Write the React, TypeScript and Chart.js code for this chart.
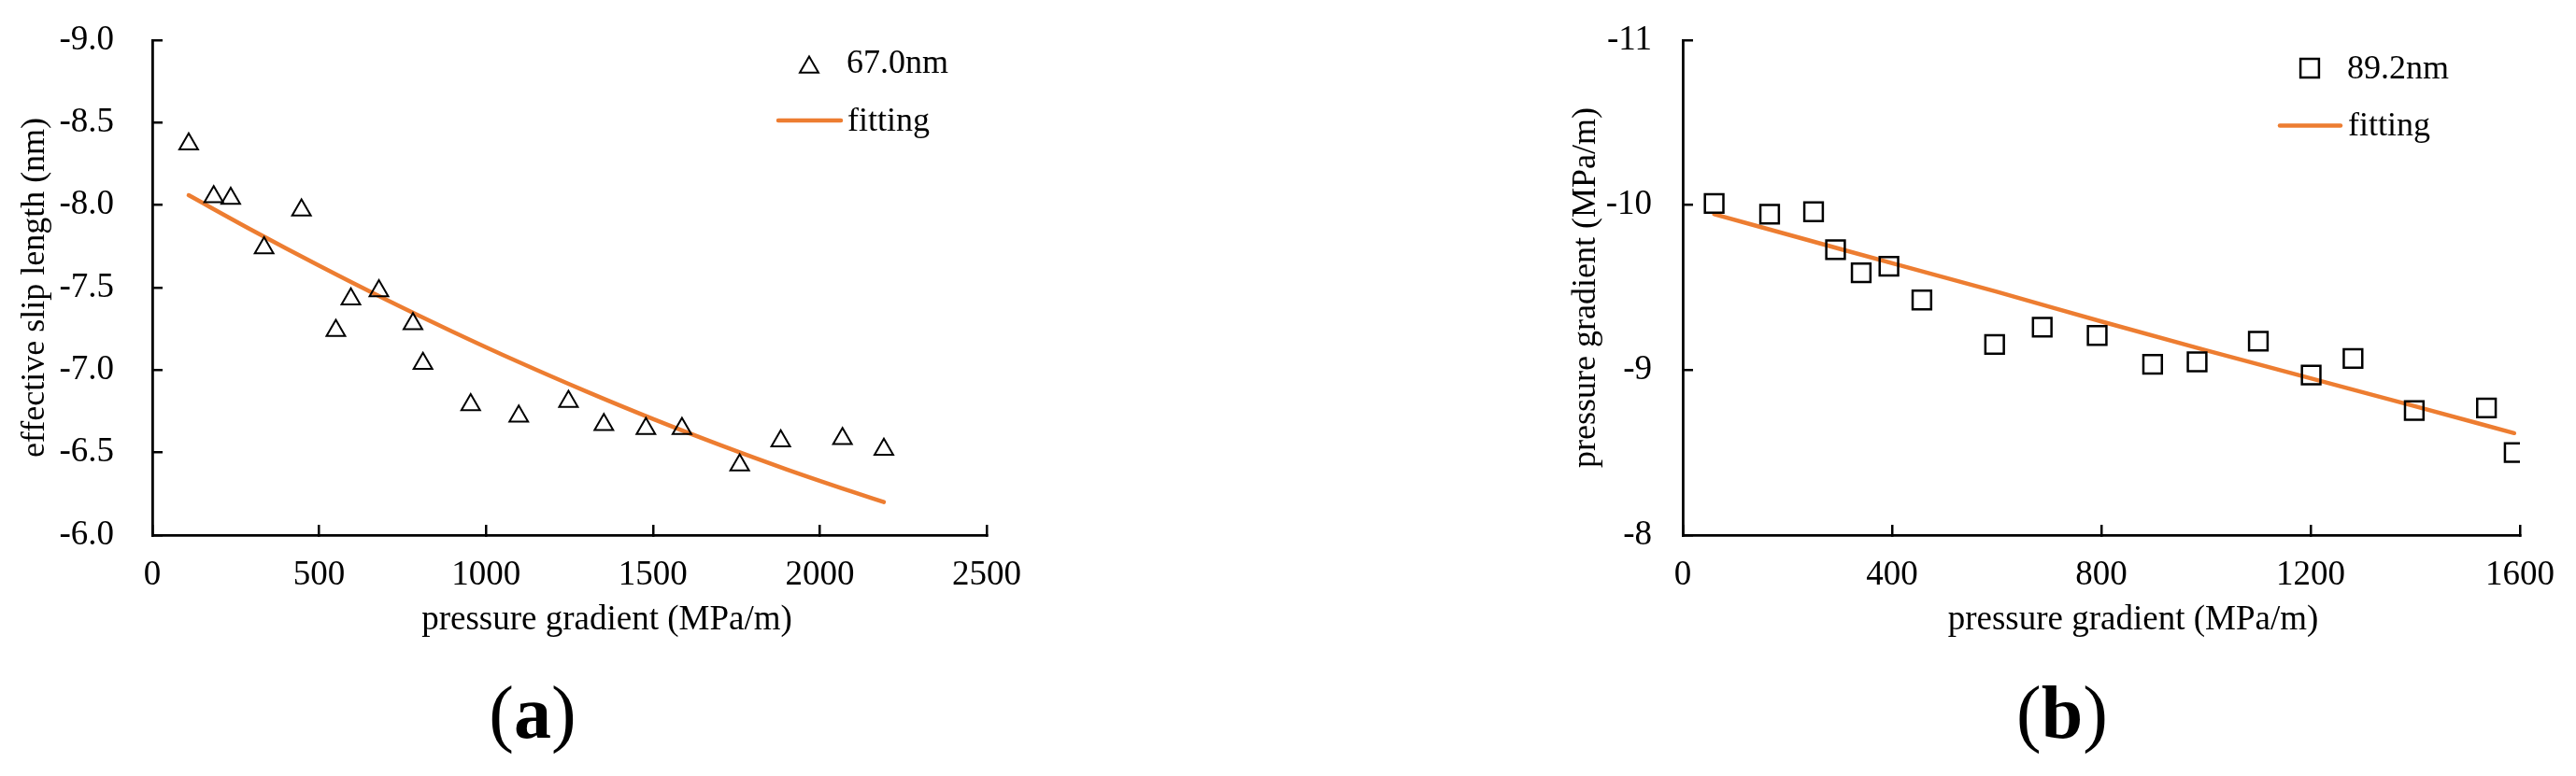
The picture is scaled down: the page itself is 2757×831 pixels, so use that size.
import React, { useEffect, useRef } from 'react';
import { Chart, registerables } from 'chart.js';
import { drawPoint } from 'chart.js/helpers';

Chart.register(...registerables);

const SERIF = "'Liberation Serif', 'Times New Roman', Times, serif";
const ORANGE = '#ED7D31';

// ---------- Panel (a) ----------
const aPressure = [109, 184, 235, 335, 447, 550, 595, 679, 781, 811, 954, 1098, 1247, 1353, 1479, 1587, 1760, 1883, 2068, 2192];
const aSlip = [-8.37, -8.05, -8.04, -7.74, -7.97, -7.24, -7.43, -7.48, -7.28, -7.04, -6.79, -6.72, -6.81, -6.67, -6.645, -6.645, -6.425, -6.57, -6.585, -6.52];
const aFitPressure = [109, 300, 500, 700, 900, 1100, 1300, 1500, 1700, 1900, 2100, 2192];
const aFitSlip = [-8.06, -7.847, -7.633, -7.428, -7.233, -7.047, -6.871, -6.704, -6.547, -6.399, -6.261, -6.2];
const aXTicks = [0, 500, 1000, 1500, 2000, 2500];
const aYTicks = [-9.0, -8.5, -8.0, -7.5, -7.0, -6.5, -6.0];
const aSeriesLabel = '67.0nm';
const aYTitle = 'effective slip length (nm)';

// ---------- Panel (b) ----------
const bPressure = [60, 166, 250, 292, 341, 394, 457, 596, 687, 792, 898, 983, 1100, 1201, 1281, 1398, 1536, 1589];
const bGradient = [-10.01, -9.945, -9.96, -9.73, -9.59, -9.63, -9.425, -9.155, -9.26, -9.21, -9.035, -9.05, -9.175, -8.97, -9.07, -8.755, -8.77, -8.5];
const bFitPressure = [60, 300, 600, 800, 1000, 1200, 1400, 1589];
const bFitGradient = [-9.945, -9.735, -9.475, -9.295, -9.12, -8.95, -8.78, -8.618];
const bXTicks = [0, 400, 800, 1200, 1600];
const bYTicks = [-11, -10, -9, -8];
const bSeriesLabel = '89.2nm';
const bYTitle = 'pressure gradient (MPa/m)';

const xTitle = 'pressure gradient (MPa/m)';
const fitLabel = 'fitting';

const insetLegend = {
  id: 'insetLegend',
  afterLayout(chart: any, _args: any, opts: any) {
    // shift the x-axis title sideways the way the reference places it
    const s = chart.scales.x;
    if (s && !s.__titleShifted) {
      const orig = s.drawTitle.bind(s);
      s.drawTitle = function () {
        const ctx = this.ctx;
        ctx.save();
        ctx.translate((opts && opts.xTitleShift) || 0, 0);
        orig();
        ctx.restore();
      };
      s.__titleShifted = true;
    }
  },
  afterDatasetsDraw(chart: any, _args: any, opts: any) {
    if (!opts || !opts.marker) return;
    const ctx = chart.ctx;
    const pts = chart.data.datasets[0];
    const fit = chart.data.datasets[1];
    ctx.save();
    ctx.strokeStyle = pts.borderColor;
    ctx.fillStyle = 'rgba(0,0,0,0)';
    ctx.lineWidth = pts.borderWidth;
    drawPoint(
      ctx,
      { pointStyle: pts.pointStyle, radius: pts.pointRadius, borderWidth: pts.borderWidth, rotation: 0 } as any,
      opts.marker[0],
      opts.marker[1]
    );
    ctx.beginPath();
    ctx.strokeStyle = fit.borderColor;
    ctx.lineWidth = fit.borderWidth;
    ctx.lineCap = 'round';
    ctx.moveTo(opts.line[0], opts.line[2]);
    ctx.lineTo(opts.line[1], opts.line[2]);
    ctx.stroke();
    ctx.fillStyle = '#000';
    ctx.font = `36px ${SERIF}`;
    ctx.textAlign = 'left';
    ctx.textBaseline = 'alphabetic';
    ctx.fillText(pts.label, opts.text1[0], opts.text1[1]);
    ctx.fillText(fit.label, opts.text2[0], opts.text2[1]);
    ctx.restore();
  },
};

type PanelSpec = {
  xs: number[];
  ys: number[];
  fitXs: number[];
  fitYs: number[];
  xTicks: number[];
  yTicks: number[];
  seriesLabel: string;
  yTitle: string;
  yDecimals: number;
  pointStyle: string;
  pointRadius: number;
  markerStroke: number;
  padding: { left: number; right: number; top: number; bottom: number };
  yWidth: number;
  yTickPad: number;
  yTitlePad: number;
  legend: any;
};

function zeroPad(s: any) {
  s.paddingTop = 0;
  s.paddingBottom = 0;
  s.paddingLeft = 0;
  s.paddingRight = 0;
}

function buildConfig(p: PanelSpec): any {
  const tickFont = { family: SERIF, size: 37 };
  const xTitleFont = { family: SERIF, size: 37 };
  const yTitleFont = { family: SERIF, size: 36 };
  return {
    type: 'scatter',
    data: {
      datasets: [
        {
          label: p.seriesLabel,
          data: p.xs.map((x, i) => ({ x, y: p.ys[i] })),
          pointStyle: p.pointStyle,
          pointRadius: p.pointRadius,
          borderColor: '#000',
          backgroundColor: 'rgba(0,0,0,0)',
          borderWidth: p.markerStroke,
          showLine: false,
        },
        {
          label: fitLabel,
          data: p.fitXs.map((x, i) => ({ x, y: p.fitYs[i] })),
          showLine: true,
          pointRadius: 0,
          borderColor: ORANGE,
          backgroundColor: ORANGE,
          borderWidth: 4.5,
          cubicInterpolationMode: 'monotone',
          borderCapStyle: 'round',
          fill: false,
        },
      ],
    },
    options: {
      responsive: false,
      animation: false,
      devicePixelRatio: 1,
      layout: { padding: p.padding },
      plugins: {
        legend: { display: false },
        tooltip: { enabled: false },
        insetLegend: p.legend,
      },
      scales: {
        x: {
          type: 'linear',
          position: 'bottom',
          min: p.xTicks[0],
          max: p.xTicks[p.xTicks.length - 1],
          afterBuildTicks: (s: any) => {
            s.ticks = p.xTicks.map((v) => ({ value: v }));
          },
          afterFit: (s: any) => {
            s.height = 120;
            zeroPad(s);
          },
          grid: { drawOnChartArea: false, drawTicks: true, tickLength: -11, color: '#000', lineWidth: 2.5 },
          border: { display: true, color: '#000', width: 2.8 },
          ticks: {
            autoSkip: false,
            maxRotation: 0,
            padding: 32,
            color: '#000',
            font: tickFont,
            callback: (v: any) => String(v),
          },
          title: { display: true, text: xTitle, color: '#000', font: xTitleFont, padding: { top: 0, bottom: 7 } },
        },
        y: {
          type: 'linear',
          position: 'left',
          reverse: true,
          min: p.yTicks[0],
          max: p.yTicks[p.yTicks.length - 1],
          afterBuildTicks: (s: any) => {
            s.ticks = p.yTicks.map((v) => ({ value: v }));
          },
          afterFit: (s: any) => {
            s.width = p.yWidth;
            zeroPad(s);
          },
          grid: { drawOnChartArea: false, drawTicks: true, tickLength: -11, color: '#000', lineWidth: 2.5 },
          border: { display: true, color: '#000', width: 2.8 },
          ticks: {
            autoSkip: false,
            padding: p.yTickPad,
            color: '#000',
            font: tickFont,
            callback: (v: any) => Number(v).toFixed(p.yDecimals),
          },
          title: { display: true, text: p.yTitle, color: '#000', font: yTitleFont, padding: { top: p.yTitlePad, bottom: 0 } },
        },
      },
    },
    plugins: [insetLegend],
  };
}

function Panel({ spec, left, width }: { spec: PanelSpec; left: number; width: number }) {
  const ref = useRef<HTMLCanvasElement | null>(null);
  useEffect(() => {
    if (!ref.current) return;
    const chart = new Chart(ref.current, buildConfig(spec));
    return () => chart.destroy();
  }, [spec]);
  return (
    <canvas
      ref={ref}
      width={width}
      height={831}
      style={{ position: 'absolute', left, top: 0, width, height: 831 }}
    />
  );
}

const panelA: PanelSpec = {
  xs: aPressure,
  ys: aSlip,
  fitXs: aFitPressure,
  fitYs: aFitSlip,
  xTicks: aXTicks,
  yTicks: aYTicks,
  seriesLabel: aSeriesLabel,
  yTitle: aYTitle,
  yDecimals: 1,
  pointStyle: 'triangle',
  pointRadius: 11.5,
  markerStroke: 2,
  padding: { left: 0, right: 324, top: 43, bottom: 138 },
  yWidth: 163,
  yTickPad: 52,
  yTitlePad: 16,
  legend: { marker: [866, 72], text1: [906, 78], line: [833, 900, 129], text2: [907, 140], xTitleShift: 40 },
};

const panelB: PanelSpec = {
  xs: bPressure,
  ys: bGradient,
  fitXs: bFitPressure,
  fitYs: bFitGradient,
  xTicks: bXTicks,
  yTicks: bYTicks,
  seriesLabel: bSeriesLabel,
  yTitle: bYTitle,
  yDecimals: 0,
  pointStyle: 'rect',
  pointRadius: 14,
  markerStroke: 2.5,
  padding: { left: 0, right: 60, top: 43, bottom: 138 },
  yWidth: 161,
  yTickPad: 44,
  yTitlePad: 36,
  legend: { marker: [832, 73], text1: [872, 84], line: [800, 865, 134.6], text2: [873, 145], xTitleShift: 34 },
};

const capStyle: React.CSSProperties = {
  position: 'absolute',
  top: 713,
  width: 200,
  textAlign: 'center',
  fontFamily: SERIF,
  fontSize: 80,
  lineHeight: '100px',
  color: '#000',
};

export default function App() {
  return (
    <div style={{ position: 'absolute', left: 0, top: 0, width: 2757, height: 831, background: '#fff', overflow: 'hidden' }}>
      <Panel spec={panelA} left={0} width={1380} />
      <Panel spec={panelB} left={1640} width={1117} />
      <div style={{ ...capStyle, left: 470 }}>
        (<b>a</b>)
      </div>
      <div style={{ ...capStyle, left: 2107 }}>
        (<b>b</b>)
      </div>
    </div>
  );
}
